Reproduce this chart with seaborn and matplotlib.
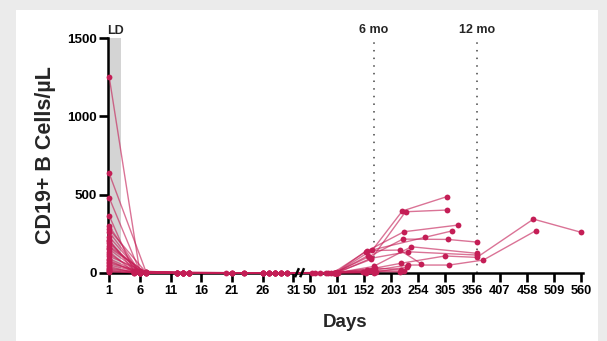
import numpy as np
import pandas as pd
import matplotlib
matplotlib.use("Agg")
import matplotlib.pyplot as plt
import seaborn as sns
from matplotlib.patches import Rectangle

# ---------------- data ----------------
days_by_patient = [
    [1, 6, 13, 28, 100, 160, 224, 307],
    [1, 7, 14, 29, 101, 165, 230, 307],
    [1, 6, 12, 27, 95, 155, 227, 329],
    [1, 5, 13, 30, 100, 167, 266, 318],
    [1, 6, 21, 26, 98, 161, 225, 309, 364],
    [1, 7, 14, 28, 102, 170, 241, 364],
    [1, 6, 12, 23, 97, 158, 221, 304, 364, 470, 560],
    [1, 5, 13, 29, 100, 160, 234, 312, 376, 474],
    [1, 6, 20, 27, 99, 157, 219, 260],
    [1, 7, 14, 30, 103, 165, 234, 364],
    [1, 6, 12, 26, 100, 172, 222],
    [1, 5, 13, 28, 96, 168, 228],
    [1, 6, 21, 29, 101, 175, 232],
    [1, 7, 14, 27, 99, 163, 220],
    [1, 6, 12, 30, 80, 150],
    [1, 5, 13, 26, 60, 155],
    [1, 6, 23, 28, 90, 170],
    [1, 7, 14, 29, 55],
    [1, 6, 12, 27, 70],
    [1, 5, 13, 26, 85],
    [1, 6, 21, 30],
    [1, 7, 14, 28],
    [1, 6, 12, 29],
    [1, 5, 23],
    [1, 6, 13],
    [1, 6, 14, 28, 100],
    [1, 7, 13, 27],
    [1, 6, 12, 26],
]
cells_by_patient = [
    [1252, 3, 0, 0, 0, 110, 395, 486],
    [635, 5, 0, 0, 2, 85, 390, 401],
    [479, 8, 0, 0, 0, 134, 262, 305],
    [364, 10, 0, 0, 0, 145, 226, 268],
    [298, 4, 0, 0, 0, 102, 215, 213, 196],
    [277, 2, 0, 0, 0, 40, 166, 124],
    [230, 6, 0, 0, 0, 20, 60, 107, 98, 343, 258],
    [210, 12, 0, 0, 0, 10, 49, 49, 81, 268],
    [190, 3, 0, 0, 0, 141, 145, 56],
    [170, 0, 0, 0, 0, 92, 134, 113],
    [150, 5, 0, 0, 0, 30, 20],
    [135, 4, 0, 0, 0, 15, 10],
    [120, 2, 0, 0, 0, 5, 35],
    [105, 3, 0, 0, 0, 8, 5],
    [90, 0, 0, 0, 0, 3],
    [80, 6, 0, 0, 0, 0],
    [70, 1, 0, 0, 0, 0],
    [60, 0, 0, 0, 0],
    [50, 2, 0, 0, 0],
    [40, 0, 0, 0, 0],
    [30, 0, 0, 0],
    [22, 1, 0, 0],
    [15, 0, 0, 0],
    [10, 0, 0],
    [5, 0, 0],
    [200, 0, 0, 0, 0],
    [160, 1, 0, 0],
    [260, 2, 0, 0],
]
xtick_days = [1, 6, 11, 16, 21, 26, 31, 50, 101, 152, 203, 254, 305, 356, 407, 458, 509, 560]
ytick_vals = [0, 500, 1000, 1500]
ld_end_day = 3
month_marks = [(170, "6 mo"), (365, "12 mo")]

rows = []
for pid, (ds, cs) in enumerate(zip(days_by_patient, cells_by_patient)):
    for d, c in zip(ds, cs):
        rows.append((pid, d, c))
df = pd.DataFrame(rows, columns=["patient", "day", "cells"])

# ---------------- broken (piecewise linear) x scale ----------------
T31, T50 = 6.0, 6.53
S1 = 1 / 5
S2 = 0.886 / 51


def fwd(d):
    d = np.asarray(d, dtype=float)
    return np.where(d <= 31, (d - 1) * S1,
                    np.where(d <= 50, T31 + (d - 31) * (T50 - T31) / 19,
                             T50 + (d - 50) * S2))


def inv(t):
    t = np.asarray(t, dtype=float)
    return np.where(t <= T31, 1 + t / S1,
                    np.where(t <= T50, 31 + (t - T31) * 19 / (T50 - T31),
                             50 + (t - T50) / S2))


# ---------------- plot ----------------
sns.set_style("ticks")
plt.rcParams["font.family"] = ["Liberation Sans", "DejaVu Sans"]
plt.rcParams["font.weight"] = "bold"
plt.rcParams["xtick.bottom"] = True
plt.rcParams["ytick.left"] = True

fig = plt.figure(figsize=(6.07, 3.41), dpi=100, facecolor="#ebebeb")
fig.patches.append(Rectangle((16 / 607, 0), (598 - 16) / 607, (341 - 10) / 341,
                             transform=fig.transFigure, facecolor="white",
                             edgecolor="none", zorder=-5))
ax = fig.add_axes([107.5 / 607, (341 - 272.7) / 341, (583 - 107.5) / 607, (272.7 - 38.3) / 341])
ax.set_facecolor("none")
ax.set_xscale("function", functions=(fwd, inv))
ax.set_xlim(0.72, 563)
ax.set_ylim(0, 1500)

crimson = "#c41e56"
sns.lineplot(data=df, x="day", y="cells", units="patient", estimator=None,
             sort=False, color=crimson, marker="o", markersize=4.2,
             linewidth=1.0, markeredgewidth=0, legend=False, ax=ax, zorder=3)
rgb = matplotlib.colors.to_rgb(crimson)
for ln in ax.lines:
    ln.set_color((*rgb, 0.62))
    ln.set_markerfacecolor(crimson)
    ln.set_markeredgecolor(crimson)
    ln.set_clip_on(False)

# LD band
ax.axvspan(0.72, ld_end_day, ymin=0, ymax=1, color="#d4d4d4", zorder=0, lw=0)
ax.text(0.72, 1545, "LD", ha="left", va="center", fontsize=9,
        fontweight="bold")

# month markers
for d, lab in month_marks:
    ax.plot([d, d], [0, 1500], color="#444444", lw=1.1,
            linestyle=(0, (1, 4)), zorder=1, clip_on=False)
    ax.text(d, 1550, lab, ha="center", va="center", fontsize=9,
            fontweight="bold")

# axis-break slashes
for d in (35.3, 41.3):
    ax.plot([d - 2.3, d + 2.3], [-29, 29], color="black", lw=1.8,
            clip_on=False, zorder=5, solid_capstyle="butt")

ax.set_xticks(xtick_days)
ax.set_xticklabels([str(v) for v in xtick_days], fontweight="bold", fontsize=9.2)
ax.xaxis.set_minor_locator(matplotlib.ticker.NullLocator())
ax.set_yticks(ytick_vals)
ax.set_yticklabels([str(v) for v in ytick_vals], fontweight="bold", fontsize=9.6)
ax.tick_params(axis="both", which="major", direction="out", length=6.5,
               width=1.9, color="black", labelcolor="black",
               bottom=True, left=True)
ax.tick_params(axis="x", pad=2.5)
ax.tick_params(axis="y", pad=1.5)

sns.despine(ax=ax)
for s in ("left", "bottom"):
    ax.spines[s].set_linewidth(1.8)
    ax.spines[s].set_color("black")

ax.set_xlabel("Days", fontsize=13.5, fontweight="bold", labelpad=12)
ax.set_ylabel("CD19+ B Cells/µL", fontsize=15.5, fontweight="bold", labelpad=8)

fig.savefig("out.png", dpi=100, facecolor=fig.get_facecolor())
